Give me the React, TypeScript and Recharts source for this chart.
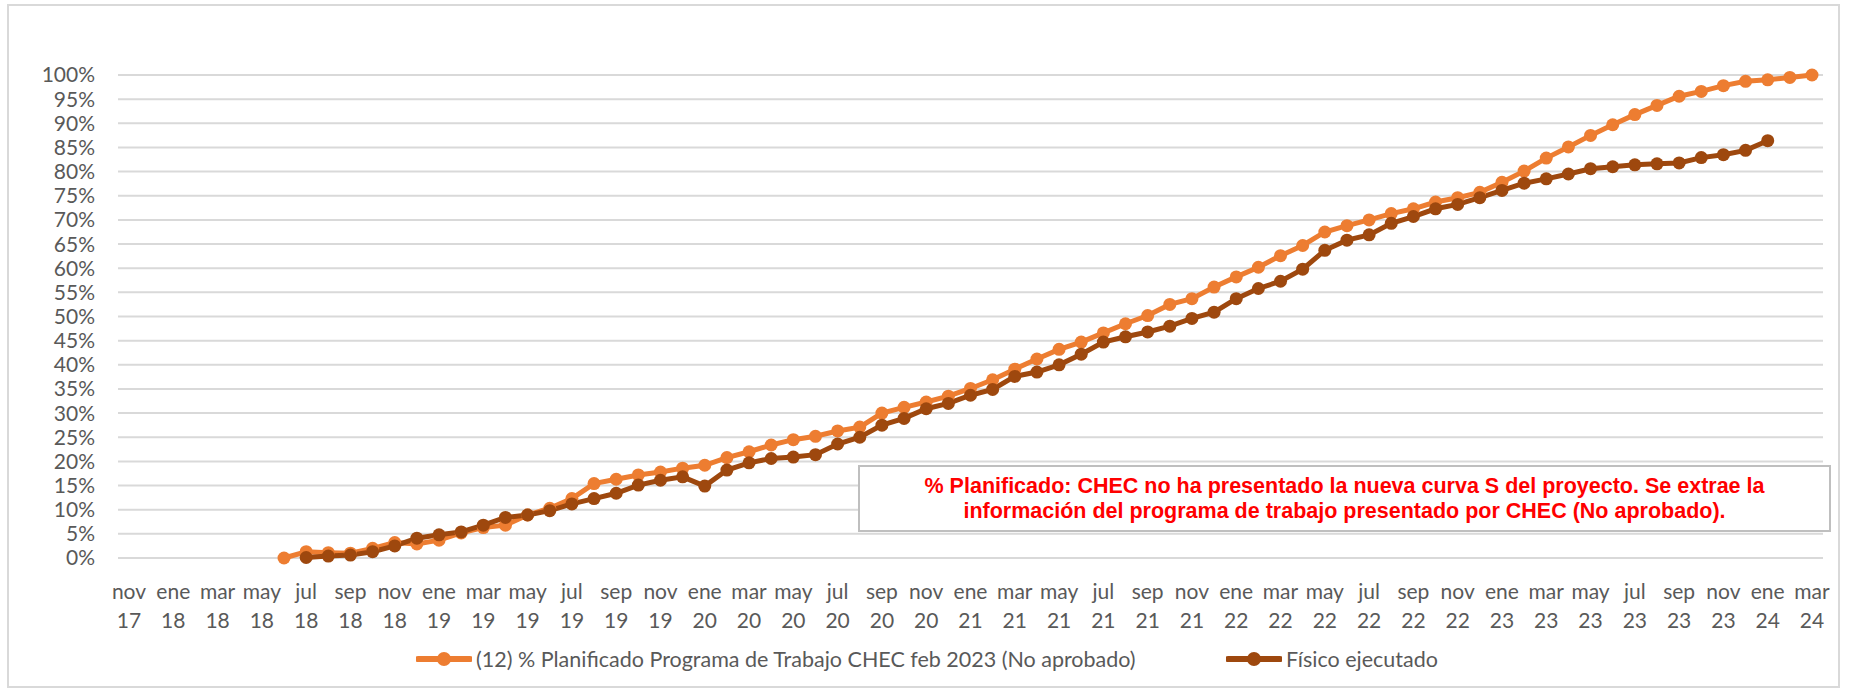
import React from "react";
import { LineChart, Line, XAxis, YAxis, CartesianGrid, Legend } from "recharts";

const months: string[] = [
  "nov 17", "dic 17",
  "ene 18", "feb 18", "mar 18", "abr 18", "may 18", "jun 18", "jul 18", "ago 18", "sep 18", "oct 18", "nov 18", "dic 18",
  "ene 19", "feb 19", "mar 19", "abr 19", "may 19", "jun 19", "jul 19", "ago 19", "sep 19", "oct 19", "nov 19", "dic 19",
  "ene 20", "feb 20", "mar 20", "abr 20", "may 20", "jun 20", "jul 20", "ago 20", "sep 20", "oct 20", "nov 20", "dic 20",
  "ene 21", "feb 21", "mar 21", "abr 21", "may 21", "jun 21", "jul 21", "ago 21", "sep 21", "oct 21", "nov 21", "dic 21",
  "ene 22", "feb 22", "mar 22", "abr 22", "may 22", "jun 22", "jul 22", "ago 22", "sep 22", "oct 22", "nov 22", "dic 22",
  "ene 23", "feb 23", "mar 23", "abr 23", "may 23", "jun 23", "jul 23", "ago 23", "sep 23", "oct 23", "nov 23", "dic 23",
  "ene 24", "feb 24", "mar 24",
];

// % Planificado (jun 18 -> mar 24)
const planificado: (number | null)[] = [
  null, null, null, null, null, null, null,
  0, 1.3, 1.1, 1.0, 2.0, 3.2, 2.9,
  3.7, 5.2, 6.3, 6.8, 8.9, 10.3, 12.3, 15.4, 16.3, 17.2, 17.8, 18.6,
  19.2, 20.8, 22.0, 23.4, 24.5, 25.2, 26.3, 27.1, 30.0, 31.2, 32.3, 33.5,
  35.1, 36.9, 39.1, 41.2, 43.2, 44.7, 46.6, 48.5, 50.2, 52.5, 53.7, 56.1,
  58.2, 60.2, 62.6, 64.7, 67.5, 68.8, 70.0, 71.3, 72.3, 73.7, 74.6, 75.7,
  77.8, 80.1, 82.8, 85.1, 87.5, 89.7, 91.8, 93.7, 95.6, 96.6, 97.8, 98.7,
  99.0, 99.5, 100,
];

// Físico ejecutado (jul 18 -> ene 24)
const fisico: (number | null)[] = [
  null, null, null, null, null, null, null, null,
  0.1, 0.4, 0.6, 1.3, 2.5, 4.1,
  4.8, 5.4, 6.8, 8.4, 8.9, 9.8, 11.2, 12.3, 13.4, 15.1, 16.1, 16.8,
  14.9, 18.2, 19.7, 20.6, 20.9, 21.4, 23.6, 25.0, 27.5, 28.9, 30.9, 32.0,
  33.7, 34.9, 37.6, 38.5, 40.0, 42.2, 44.7, 45.8, 46.8, 48.0, 49.6, 50.9,
  53.7, 55.8, 57.3, 59.8, 63.7, 65.8, 66.9, 69.3, 70.7, 72.3, 73.2, 74.6,
  76.1, 77.6, 78.5, 79.5, 80.6, 81.0, 81.4, 81.6, 81.8, 82.9, 83.5, 84.4,
  86.4, null, null,
];

const yTicks: number[] = [0, 5, 10, 15, 20, 25, 30, 35, 40, 45, 50, 55, 60, 65, 70, 75, 80, 85, 90, 95, 100];

const seriesNames = {
  plan: "(12) % Planificado Programa de Trabajo CHEC feb 2023 (No aprobado)",
  fisico: "Físico ejecutado",
};

const noteLines: string[] = [
  "% Planificado: CHEC no ha presentado la nueva curva S del proyecto. Se extrae la",
  "información del programa de trabajo presentado por CHEC (No aprobado).",
];

const ORANGE = "#ED7D31";
const BROWN = "#9E480E";
const TEXT = "#595959";
const FONT = "Lato, 'Open Sans', sans-serif";

const data = months.map((m, i) => ({ month: m, plan: planificado[i], fisico: fisico[i] }));

const XTick = (props: any) => {
  const { x, y, payload } = props;
  const [mon, yr] = String(payload.value).split(" ");
  return (
    <g>
      <text x={x} y={y + 32} textAnchor="middle" dominantBaseline="central" fill={TEXT} fontSize={21} fontFamily={FONT}>
        {mon}
      </text>
      <text x={x} y={y + 61} textAnchor="middle" dominantBaseline="central" fill={TEXT} fontSize={21} fontFamily={FONT}>
        {yr}
      </text>
    </g>
  );
};

const LegendIcon = ({ color }: { color: string }) => (
  <svg width={56} height={18} style={{ display: "block" }}>
    <line x1={2} y1={9} x2={54} y2={9} stroke={color} strokeWidth={6} strokeLinecap="round" />
    <circle cx={28} cy={9} r={7} fill={color} />
  </svg>
);

const renderLegend = (props: any) => {
  const { payload } = props;
  const lefts = [416, 1226];
  return (
    <div style={{ position: "relative", width: 1853, height: 28 }}>
      {(payload || []).map((entry: any, idx: number) => (
        <div
          key={entry.value}
          style={{
            position: "absolute",
            left: lefts[idx],
            top: 0,
            height: 28,
            display: "flex",
            alignItems: "center",
            whiteSpace: "nowrap",
          }}
        >
          <LegendIcon color={entry.color} />
          <span style={{ marginLeft: 4, fontFamily: FONT, fontSize: 21.5, color: TEXT }}>{entry.value}</span>
        </div>
      ))}
    </div>
  );
};

export default function App() {
  return (
    <div style={{ position: "absolute", left: 0, top: 0, width: 1853, height: 691, background: "#fff", overflow: "hidden" }}>
      <div
        style={{
          position: "absolute",
          left: 7,
          top: 4,
          width: 1833,
          height: 684,
          border: "2px solid #d9d9d9",
          boxSizing: "border-box",
        }}
      />
      <div style={{ position: "absolute", left: 0, top: 0 }}>
        <LineChart width={1853} height={691} data={data} margin={{ top: 75, right: 30, bottom: 73, left: 18 }}>
          <CartesianGrid vertical={false} stroke="#d9d9d9" strokeWidth={2} />
          <XAxis
            dataKey="month"
            interval={1}
            axisLine={false}
            tickLine={false}
            tickSize={0}
            tickMargin={0}
            height={60}
            padding={{ left: 11, right: 11 }}
            tick={<XTick />}
          />
          <YAxis
            domain={[0, 100]}
            ticks={yTicks}
            width={100}
            axisLine={false}
            tickLine={false}
            tickSize={6}
            tickMargin={17}
            interval={0}
            tickFormatter={(v: number) => `${v}%`}
            tick={{ fill: TEXT, fontSize: 21, fontFamily: FONT }}
          />
          <Legend
            verticalAlign="middle"
            layout="horizontal"
            wrapperStyle={{ top: 645, left: 0, width: 1853 }}
            content={renderLegend}
          />
          <Line
            type="linear"
            dataKey="plan"
            name={seriesNames.plan}
            stroke={ORANGE}
            strokeWidth={5}
            dot={{ r: 6.5, fill: ORANGE, stroke: ORANGE, strokeWidth: 0 }}
            activeDot={false}
            isAnimationActive={false}
          />
          <Line
            type="linear"
            dataKey="fisico"
            name={seriesNames.fisico}
            stroke={BROWN}
            strokeWidth={5}
            dot={{ r: 6.5, fill: BROWN, stroke: BROWN, strokeWidth: 0 }}
            activeDot={false}
            isAnimationActive={false}
          />
        </LineChart>
      </div>
      <div
        style={{
          position: "absolute",
          left: 858,
          top: 465,
          width: 973,
          height: 67,
          boxSizing: "border-box",
          border: "2px solid #bfbfbf",
          background: "#fff",
          display: "flex",
          flexDirection: "column",
          alignItems: "center",
          justifyContent: "center",
          fontFamily: "'Liberation Sans', Arial, sans-serif",
          fontWeight: "bold",
          fontSize: 21.5,
          lineHeight: "25px",
          color: "#FF0000",
          textAlign: "center",
        }}
      >
        {noteLines.map((l) => (
          <div key={l} style={{ whiteSpace: "nowrap" }}>{l}</div>
        ))}
      </div>
    </div>
  );
}
